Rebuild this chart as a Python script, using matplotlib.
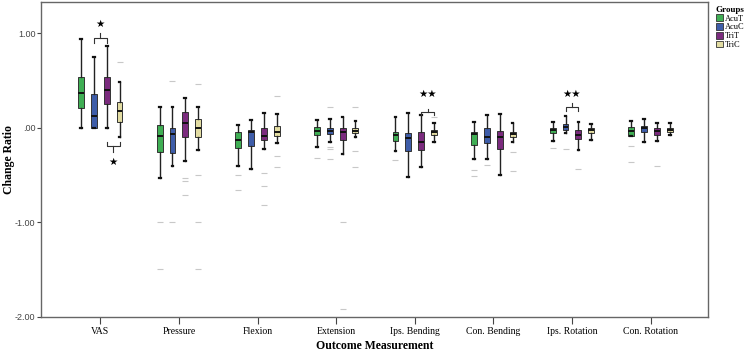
import matplotlib
matplotlib.use("Agg")
import matplotlib.pyplot as plt
from matplotlib.patches import Patch

categories = ["VAS", "Pressure", "Flexion", "Extension", "Ips. Bending",
              "Con. Bending", "Ips. Rotation", "Con. Rotation"]
groups = ["AcuT", "AcuC", "TriT", "TriC"]
colors = ["#3fae54", "#3e5da9", "#7b2b7e", "#e2dca2"]

# [whisker low, Q1, median, Q3, whisker high] per category
acut_stats = [[0.00, 0.21, 0.37, 0.535, 0.94],
              [-0.53, -0.25, -0.085, 0.03, 0.225],
              [-0.40, -0.215, -0.127, -0.04, 0.03],
              [-0.20, -0.074, -0.028, 0.014, 0.085],
              [-0.243, -0.137, -0.074, -0.04, 0.11],
              [-0.33, -0.18, -0.063, -0.046, 0.06],
              [-0.137, -0.05, -0.02, 0.003, 0.067],
              [-0.09, -0.081, -0.028, 0.007, 0.077]]
acuc_stats = [[0.0, 0.0, 0.127, 0.355, 0.75],
              [-0.40, -0.27, -0.07, 0.0, 0.225],
              [-0.43, -0.197, -0.04, -0.02, 0.085],
              [-0.145, -0.067, -0.028, -0.003, 0.09],
              [-0.52, -0.243, -0.11, -0.056, 0.155],
              [-0.33, -0.155, -0.10, -0.003, 0.137],
              [-0.056, -0.02, 0.007, 0.039, 0.127],
              [-0.145, -0.046, -0.003, 0.025, 0.09]]
trit_stats = [[0.0, 0.25, 0.40, 0.54, 0.87],
              [-0.35, -0.10, 0.05, 0.17, 0.32],
              [-0.22, -0.127, -0.085, -0.003, 0.16],
              [-0.275, -0.13, -0.04, 0.0, 0.11],
              [-0.41, -0.23, -0.145, -0.04, 0.137],
              [-0.50, -0.22, -0.10, -0.032, 0.145],
              [-0.23, -0.12, -0.074, -0.02, 0.067],
              [-0.134, -0.08, -0.028, 0.003, 0.056]]
tric_stats = [[-0.10, 0.067, 0.18, 0.27, 0.49],
              [-0.23, -0.10, 0.0, 0.095, 0.225],
              [-0.16, -0.09, -0.04, 0.02, 0.148],
              [-0.10, -0.056, -0.028, -0.003, 0.077],
              [-0.145, -0.074, -0.046, -0.02, 0.056],
              [-0.148, -0.10, -0.063, -0.04, 0.05],
              [-0.127, -0.05, -0.02, 0.003, 0.042],
              [-0.08, -0.046, -0.02, 0.003, 0.05]]

acut_out = [[], [-1.0, -1.49], [-0.50, -0.655], [-0.32], [-0.34], [-0.45, -0.51], [-0.21], [-0.19, -0.36]]
acuc_out = [[], [0.5, -1.0], [], [0.22, -0.2, -0.22, -0.33], [], [-0.39], [-0.225], []]
trit_out = [[], [-0.53, -0.56, -0.71], [-0.48, -0.62, -0.82], [-1.0, -1.92], [], [], [-0.43], [-0.40]]
tric_out = [[0.70], [0.46, -0.5, -1.0, -1.49], [0.34, -0.30, -0.41], [0.22, -0.24, -0.41], [0.115],
            [-0.25, -0.46], [], []]

all_stats = [acut_stats, acuc_stats, trit_stats, tric_stats]
all_out = [acut_out, acuc_out, trit_out, tric_out]
offsets = [-0.245, -0.082, 0.082, 0.245]

serif = "Liberation Serif"
fig = plt.figure(figsize=(7.45, 3.51), dpi=100)
ax = fig.add_axes([41 / 745, 1 - 317 / 351, (708 - 41) / 745, (317 - 2) / 351])

for g in range(4):
    bstats = []
    for i, s in enumerate(all_stats[g]):
        bstats.append(dict(whislo=s[0], q1=s[1], med=s[2], q3=s[3], whishi=s[4],
                           fliers=all_out[g][i]))
    pos = [i + offsets[g] for i in range(len(categories))]
    ax.bxp(bstats, positions=pos, widths=0.075, patch_artist=True, showfliers=True,
           capwidths=0.022, manage_ticks=False,
           boxprops=dict(facecolor=colors[g], edgecolor="#333333", linewidth=0.7),
           medianprops=dict(color="#111111", linewidth=1.4),
           whiskerprops=dict(color="#222222", linewidth=1.0),
           capprops=dict(color="#111111", linewidth=1.6),
           flierprops=dict(marker="_", markeredgecolor="#c8c8c8", markersize=4,
                           markeredgewidth=0.8, linestyle="none"))

def brace(x1, x2, yh, ye, ym, star_y, stars):
    xm = (x1 + x2) / 2
    ax.plot([x1, x1, x2, x2], [ye, yh, yh, ye], color="#333333", lw=0.8)
    ax.plot([xm, xm], [yh, ym], color="#333333", lw=0.8)
    ax.text(xm, star_y, stars, ha="center", va="center", fontsize=7.5,
            family="DejaVu Sans", color="black")

brace(0 + offsets[1], 0 + offsets[2], 0.954, 0.895, 1.0, 1.10, "★")
brace(0 + offsets[2], 0 + offsets[3], -0.197, -0.145, -0.25, -0.365, "★")
brace(4 + offsets[2], 4 + offsets[3], 0.166, 0.137, 0.197, 0.36, "★★")
brace(6 + offsets[1], 6 + offsets[2], 0.225, 0.18, 0.265, 0.36, "★★")

ax.set_xlim(-0.754, 7.73)
ax.set_ylim(-2.0, 1.331)
ax.set_xticks(range(len(categories)))
ax.set_xticklabels(categories, family=serif, fontsize=7)
ax.set_yticks([1.0, 0.0, -1.0, -2.0])
ax.set_yticklabels(["1.00", ".00", "-1.00", "-2.00"], family="Liberation Sans",
                   fontsize=6.5, color="#444444")
ax.tick_params(axis="x", length=5, width=0.8, color="#444444", pad=2)
ax.tick_params(axis="y", length=3, width=0.8, color="#444444", pad=1)
for sp in ax.spines.values():
    sp.set_color("#666666")
    sp.set_linewidth(1.0)

ax.set_xlabel("Outcome Measurement", family=serif, fontsize=8.5, fontweight="bold")
ax.xaxis.set_label_coords(0.5, -0.074)
ax.set_ylabel("Change Ratio", family=serif, fontsize=8.5, fontweight="bold")
ax.yaxis.set_label_coords(-0.039, 0.5)

handles = [Patch(facecolor=c, edgecolor="#333333", linewidth=0.6) for c in colors]
leg = fig.legend(handles, groups, loc="upper left", bbox_to_anchor=(715 / 745, 1 - 5 / 351),
                 frameon=False, prop=dict(family=serif, size=6), title="Groups",
                 title_fontproperties=dict(family=serif, size=6.5, weight="bold"),
                 handlelength=0.9, handleheight=0.9, handletextpad=0.2, labelspacing=0.05,
                 borderpad=0.1, borderaxespad=0)
leg._legend_box.align = "left"

fig.savefig("out.png", dpi=100)
